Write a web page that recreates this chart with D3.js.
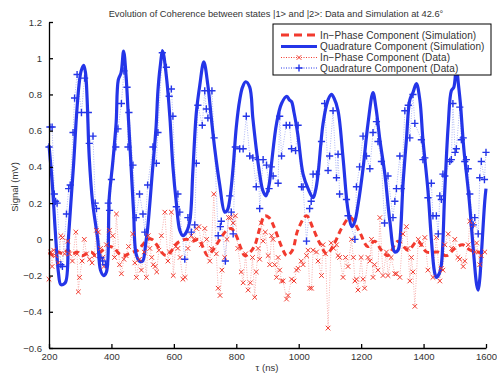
<!DOCTYPE html>
<html>
<head>
<meta charset="utf-8">
<script src="https://cdn.jsdelivr.net/npm/d3@7"></script>
<style>
  body { margin: 0; background: #fff; }
  text { font-family: "Liberation Sans", Arial, sans-serif; }
</style>
</head>
<body>
<div id="chart"></div>
<script>
// simulation, quadrature component (blue solid)
const quadSimT = [200,210,220,230,238,252,262,270,279,288,296,303,311,317,322,329,340,356,365,375,384,393,404,415,422,431,439,447,455,463,471,479,490,500,510,516,532,543,549,556,564,576,587,597,608,619,629,640,651,661,672,683,696,709,720,731,747,763,771,779,790,800,811,820,830,843,853,864,875,885,895,905,913,929,945,962,970,977,985,997,1014,1030,1046,1054,1062,1078,1094,1105,1113,1126,1142,1158,1171,1180,1190,1206,1222,1238,1248,1260,1276,1292,1308,1318,1324,1334,1345,1356,1366,1377,1388,1398,1414,1425,1435,1441,1450,1457,1468,1479,1489,1497,1505,1512,1518,1529,1545,1561,1570,1575,1580,1585,1596,1600];
const quadSim = [0.52,0.32,0.05,-0.18,-0.25,-0.24,0.0,0.20,0.42,0.68,0.85,0.93,0.96,0.92,0.78,0.45,0.20,0.0,-0.17,-0.20,-0.18,0.23,0.42,0.64,0.88,0.92,1.04,0.90,0.65,0.40,0.15,-0.08,-0.12,-0.12,-0.02,0.06,0.39,0.62,0.82,0.95,1.04,0.90,0.68,0.40,0.20,0.05,0.02,0.04,0.10,0.38,0.70,0.85,0.98,0.85,0.67,0.50,0.30,0.15,0.16,0.22,0.40,0.62,0.77,0.84,0.87,0.84,0.67,0.50,0.36,0.27,0.24,0.30,0.42,0.64,0.75,0.79,0.77,0.76,0.70,0.58,0.36,0.28,0.23,0.27,0.36,0.64,0.77,0.80,0.78,0.71,0.45,0.16,0.07,0.10,0.19,0.39,0.64,0.81,0.72,0.55,0.36,0.10,-0.07,-0.06,-0.01,0.30,0.55,0.77,0.81,0.86,0.77,0.55,0.27,0.00,-0.18,-0.21,-0.19,-0.14,0.27,0.63,0.82,0.84,0.95,0.85,0.75,0.50,0.24,-0.09,-0.25,-0.28,-0.22,-0.09,0.21,0.28];

// simulation, in-phase component (red dashed)
const inSimT = [200,215,230,245,260,275,290,305,320,335,350,365,380,395,410,425,440,455,470,485,500,515,530,545,560,575,590,605,620,640,660,680,695,708,725,740,755,770,784,800,815,827,845,860,875,891,905,923,945,962,980,997,1025,1046,1067,1090,1115,1137,1165,1195,1221,1243,1265,1286,1318,1350,1381,1410,1446,1473,1500,1525,1550,1575,1600];
const inSim = [-0.07,-0.09,-0.07,-0.08,-0.06,-0.08,-0.07,-0.09,-0.08,-0.07,-0.09,-0.07,-0.05,-0.04,-0.05,-0.08,-0.09,-0.08,-0.07,-0.06,-0.03,0.0,0.0,-0.03,-0.07,-0.09,-0.07,-0.03,-0.01,0.0,-0.01,0.0,-0.05,-0.09,-0.06,-0.02,0.02,0.05,0.06,0.02,-0.05,-0.09,-0.07,-0.03,0.06,0.13,0.12,0.06,-0.04,-0.09,-0.06,0.05,0.13,0.06,-0.02,-0.08,-0.02,0.06,0.12,0.04,-0.04,-0.01,-0.06,-0.09,-0.01,-0.06,-0.01,-0.07,-0.07,-0.09,-0.05,-0.03,-0.06,-0.07,-0.08];

// measured, in-phase component (red x)
const inDataT = [200,205,210,215,221,230,238,243,250,260,266,275,286,290,294,298,306,313,320,330,338,345,352,358,365,372,376,384,394,404,410,416,426,432,440,447,455,468,475,480,490,496,505,512,518,523,529,534,540,545,552,560,571,581,586,592,598,606,613,620,629,636,645,656,664,672,680,688,699,705,715,720,728,736,742,748,754,763,770,775,782,790,797,805,816,822,830,838,845,852,859,864,870,875,880,886,893,902,907,913,918,923,929,934,939,945,950,961,966,977,985,993,998,1008,1014,1025,1030,1035,1041,1046,1057,1062,1073,1078,1086,1094,1104,1112,1121,1126,1131,1142,1150,1158,1169,1175,1180,1185,1190,1200,1206,1211,1222,1228,1233,1238,1243,1254,1260,1270,1281,1286,1296,1308,1313,1324,1334,1345,1350,1356,1361,1366,1372,1383,1393,1404,1414,1430,1441,1452,1457,1462,1468,1479,1490,1500,1510,1516,1527,1532,1543,1548,1559,1564,1570,1580,1585,1596];
const inData = [-0.22,-0.07,-0.15,-0.06,-0.09,-0.13,0.02,0.01,-0.08,-0.01,-0.08,-0.12,0.04,-0.08,-0.29,-0.21,-0.12,0.00,-0.08,-0.11,-0.13,-0.09,0.05,0.04,-0.05,-0.10,-0.15,-0.03,0.05,0.02,-0.10,0.14,-0.14,-0.19,-0.11,-0.09,-0.04,0.03,-0.13,-0.21,-0.11,-0.17,-0.07,-0.21,0.02,-0.05,-0.10,-0.14,-0.15,-0.18,-0.06,0.02,0.15,-0.12,-0.07,0.15,-0.20,-0.04,-0.05,-0.10,-0.22,-0.21,-0.05,0.02,0.00,0.06,0.07,-0.03,0.06,0.00,-0.12,-0.05,0.25,-0.08,-0.27,-0.31,-0.17,-0.10,0.00,0.12,0.12,0.09,0.13,-0.05,-0.18,-0.24,-0.08,-0.28,-0.24,-0.10,-0.32,-0.18,-0.05,-0.11,0.09,-0.01,0.04,-0.09,-0.14,0.02,0.00,-0.14,-0.21,-0.10,-0.17,-0.23,-0.23,-0.33,-0.31,-0.22,-0.23,-0.17,-0.16,-0.12,-0.14,-0.09,-0.06,-0.27,-0.27,-0.06,-0.07,-0.12,-0.20,-0.03,-0.08,-0.49,-0.02,-0.05,-0.03,-0.09,-0.10,-0.21,-0.10,-0.15,0.00,-0.10,-0.23,-0.22,-0.28,-0.10,-0.22,-0.27,-0.10,-0.12,0.00,-0.21,-0.14,-0.17,0.12,-0.20,-0.07,-0.20,-0.10,-0.19,-0.19,-0.21,0.03,0.07,-0.05,-0.23,-0.10,-0.18,-0.37,0.00,-0.03,0.01,-0.17,-0.21,0.01,-0.23,-0.16,-0.17,-0.03,0.03,-0.05,0.00,-0.10,-0.11,-0.15,-0.12,-0.03,0.10,0.08,-0.07,-0.02,-0.14,-0.09,-0.07];

// measured, quadrature component (blue +)
const quadDataT = [200,203,210,217,221,226,238,243,256,263,268,277,282,290,304,314,326,329,341,348,352,366,372,381,390,394,400,414,421,432,440,450,453,456,469,479,490,501,507,516,533,544,549,563,576,585,592,597,608,613,619,635,645,656,667,672,677,691,699,704,709,722,729,742,749,752,765,779,784,790,797,811,822,832,843,853,864,870,875,886,897,905,912,918,934,939,945,960,971,977,990,998,1009,1014,1025,1035,1040,1046,1057,1073,1083,1094,1099,1110,1121,1126,1131,1153,1158,1180,1185,1195,1206,1217,1228,1238,1249,1254,1265,1275,1286,1302,1308,1313,1324,1329,1340,1351,1356,1366,1372,1393,1398,1404,1414,1425,1430,1441,1447,1452,1457,1462,1468,1484,1489,1494,1501,1505,1516,1521,1527,1532,1537,1543,1548,1559,1564,1575,1580,1585,1595,1600];
const quadData = [0.51,0.62,0.62,0.25,0.21,0.20,-0.14,-0.15,0.14,0.28,0.30,0.59,0.78,0.91,0.70,0.89,0.70,0.53,0.57,0.20,0.17,-0.10,-0.12,-0.14,0.20,0.16,0.33,0.51,0.61,0.75,0.93,0.84,0.51,0.70,0.41,0.12,0.25,0.14,0.04,0.30,0.51,0.42,0.59,1.03,0.95,0.79,0.83,0.68,0.18,0.25,0.15,-0.11,0.12,0.04,0.08,0.42,0.74,0.63,0.82,0.72,0.67,0.82,0.56,0.02,0.07,0.10,-0.12,0.24,0.15,0.03,0.51,0.50,0.50,0.68,0.46,0.45,0.29,0.44,0.17,0.44,0.41,0.28,0.40,0.35,0.31,0.68,0.46,0.63,0.63,0.50,0.49,0.63,0.29,0.29,-0.01,0.17,0.21,0.36,0.36,0.54,0.75,0.38,0.46,0.71,0.34,0.47,0.25,0.22,0.13,0.00,0.29,0.40,0.57,0.46,0.39,0.59,0.65,0.54,0.43,0.09,0.35,0.12,0.21,0.28,0.46,0.28,0.71,0.74,0.56,0.80,0.64,0.55,0.44,0.45,0.23,0.31,0.13,0.13,0.03,0.24,0.22,0.36,0.35,0.43,0.44,0.75,0.48,0.50,0.73,0.55,0.56,0.43,0.44,0.39,0.25,0.08,0.12,0.03,0.34,0.43,0.33,0.48];

const xTicks = [200,400,600,800,1000,1200,1400,1600];
const yTicks = [-0.6,-0.4,-0.2,0,0.2,0.4,0.6,0.8,1,1.2];
const legendLabels = ["In\u2212Phase Component (Simulation)", "Quadrature Component (Simulation)", "In\u2212Phase Component (Data)", "Quadrature Component (Data)"];

const W = 497, H = 373;
const margin = { top: 22, right: 11, bottom: 25, left: 49 };
const blue = "#2435e8", red = "#f23a2e";

const svg = d3.select("#chart").append("svg")
  .attr("width", W).attr("height", H);

const x = d3.scaleLinear().domain([200, 1600]).range([margin.left, W - margin.right]);
const y = d3.scaleLinear().domain([-0.6, 1.2]).range([H - margin.bottom, margin.top]);

const zip = (ts, vs) => ts.map((t, i) => ({ t: t, v: vs[i] }));
const simQ = zip(quadSimT, quadSim);
const simI = zip(inSimT, inSim);
const datI = zip(inDataT, inData);
const datQ = zip(quadDataT, quadData);

const smooth = d3.line().x(d => x(d.t)).y(d => y(d.v)).curve(d3.curveCatmullRom.alpha(0.5));
const straight = d3.line().x(d => x(d.t)).y(d => y(d.v));

const plot = svg.append("g");

// thin dotted lines joining the measured points
plot.append("path").datum(datI)
  .attr("d", straight).attr("fill", "none")
  .attr("stroke", "#f59a98").attr("stroke-width", 0.8).attr("stroke-dasharray", "1,1.5");
plot.append("path").datum(datQ)
  .attr("d", straight).attr("fill", "none")
  .attr("stroke", "#9aa6f2").attr("stroke-width", 0.8).attr("stroke-dasharray", "1,1.5");

// simulations
plot.append("path").datum(simI)
  .attr("d", smooth).attr("fill", "none")
  .attr("stroke", red).attr("stroke-width", 3).attr("stroke-dasharray", "6,4");
plot.append("path").datum(simQ)
  .attr("d", smooth).attr("fill", "none")
  .attr("stroke", blue).attr("stroke-width", 3.2).attr("stroke-linejoin", "round");

// markers
const cross = (g, s) => g.append("path")
  .attr("d", `M${-s},${-s}L${s},${s}M${-s},${s}L${s},${-s}`);
const plus = (g, s) => g.append("path")
  .attr("d", `M${-s},0L${s},0M0,${-s}L0,${s}`);

plot.append("g").selectAll("g").data(datI).enter().append("g")
  .attr("transform", d => `translate(${x(d.t)},${y(d.v)})`)
  .attr("stroke", red).attr("stroke-width", 1)
  .each(function () { cross(d3.select(this), 2.3); });

plot.append("g").selectAll("g").data(datQ).enter().append("g")
  .attr("transform", d => `translate(${x(d.t)},${y(d.v)})`)
  .attr("stroke", blue).attr("stroke-width", 1.4)
  .each(function () { plus(d3.select(this), 3.6); });

// axes: only left and bottom, ticks inside
const xAxis = svg.append("g")
  .attr("transform", `translate(0,${H - margin.bottom})`)
  .call(d3.axisBottom(x).tickValues(xTicks).tickFormat(d3.format("d"))
    .tickSizeInner(-4).tickSizeOuter(0).tickPadding(7));
const yAxis = svg.append("g")
  .attr("transform", `translate(${margin.left},0)`)
  .call(d3.axisLeft(y).tickValues(yTicks).tickSizeInner(-4).tickSizeOuter(0).tickPadding(7));
[xAxis, yAxis].forEach(a => {
  a.select(".domain").attr("stroke", "#000").attr("stroke-width", 1.3);
  a.selectAll(".tick line").attr("stroke", "#000").attr("stroke-width", 1.3);
  a.selectAll(".tick text").attr("fill", "#333").attr("font-size", 9.5)
    .attr("font-family", "Liberation Sans, Arial, sans-serif");
});
yAxis.selectAll(".tick text").text(d => d === 0 ? "0" : String(Math.round(d * 10) / 10).replace("-", "\u2212"));
xAxis.selectAll(".tick text").attr("dy", "0.55em");

// labels
svg.append("text").attr("x", 276).attr("y", 17).attr("text-anchor", "middle")
  .attr("font-size", 9.3).attr("fill", "#333")
  .text("Evolution of Coherence between states |1> and |2>: Data and Simulation at 42.6\u00b0");
svg.append("text").attr("x", 267).attr("y", 371).attr("text-anchor", "middle")
  .attr("font-size", 9.5).attr("fill", "#333").text("\u03c4 (ns)");
svg.append("text").attr("transform", "translate(18,187) rotate(-90)").attr("text-anchor", "middle")
  .attr("font-size", 9.5).attr("fill", "#333").text("Signal (mV)");

// legend
const lg = svg.append("g").attr("transform", "translate(273,24)");
lg.append("rect").attr("width", 218).attr("height", 51)
  .attr("fill", "#fff").attr("stroke", "#000").attr("stroke-width", 1);
const rowY = [11, 22.5, 33.5, 44];
lg.append("line").attr("x1", 8).attr("x2", 44).attr("y1", rowY[0]).attr("y2", rowY[0])
  .attr("stroke", red).attr("stroke-width", 3).attr("stroke-dasharray", "8,5");
lg.append("line").attr("x1", 8).attr("x2", 44).attr("y1", rowY[1]).attr("y2", rowY[1])
  .attr("stroke", blue).attr("stroke-width", 3);
lg.append("line").attr("x1", 8).attr("x2", 44).attr("y1", rowY[2]).attr("y2", rowY[2])
  .attr("stroke", red).attr("stroke-width", 1).attr("stroke-dasharray", "1,1.5");
cross(lg.append("g").attr("transform", `translate(26,${rowY[2]})`).attr("stroke", red).attr("stroke-width", 1), 2.3);
lg.append("line").attr("x1", 8).attr("x2", 44).attr("y1", rowY[3]).attr("y2", rowY[3])
  .attr("stroke", blue).attr("stroke-width", 1).attr("stroke-dasharray", "1,1.5");
plus(lg.append("g").attr("transform", `translate(26,${rowY[3]})`).attr("stroke", blue).attr("stroke-width", 1.4), 3.6);
lg.selectAll("text.lab").data(legendLabels).enter().append("text").attr("class", "lab")
  .attr("x", 47).attr("y", (d, i) => rowY[i] + 3.5)
  .attr("font-size", 10).attr("letter-spacing", 0.1).attr("fill", "#333").text(d => d);
</script>
</body>
</html>
